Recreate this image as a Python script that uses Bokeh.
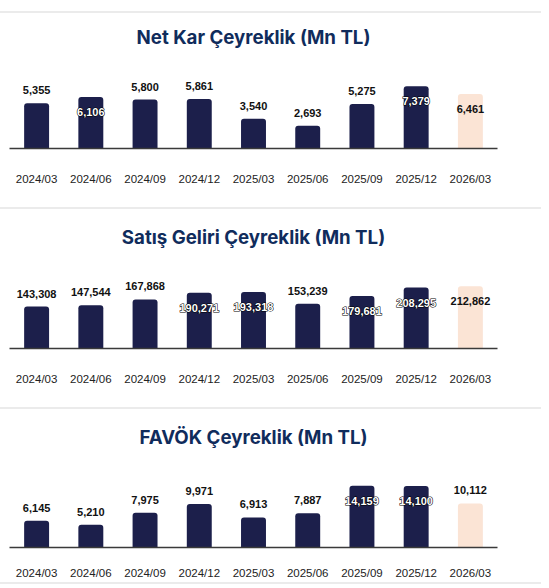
from bokeh.plotting import figure
from bokeh.models import ColumnDataSource, Range1d, Div
from bokeh.layouts import column
from bokeh.embed import file_html
from bokeh.resources import INLINE
from bokeh.core.properties import value

categories = ["2024/03", "2024/06", "2024/09", "2024/12", "2025/03",
              "2025/06", "2025/09", "2025/12", "2026/03"]
net_kar = [5355, 6106, 5800, 5861, 3540, 2693, 5275, 7379, 6461]
satis_geliri = [143308, 147544, 167868, 190271, 193318, 153239, 179681, 208295, 212862]
favok = [6145, 5210, 7975, 9971, 6913, 7887, 14159, 14100, 10112]
forecast = [False, False, False, False, False, False, False, False, True]

titles = ["Net Kar Çeyreklik (Mn TL)", "Satış Geliri Çeyreklik (Mn TL)", "FAVÖK Çeyreklik (Mn TL)"]
# label placement (inside the bar or above it)
inside_flags = [
    [0, 1, 0, 0, 0, 0, 0, 1, 1],
    [0, 0, 0, 1, 1, 0, 1, 1, 1],
    [0, 0, 0, 0, 0, 0, 1, 1, 0],
]

DARK = "#1c1f4b"
PEACH = "#fbe4d5"
TITLE_COLOR = "#102c5c"


def make_panel(title, vals, inside, height, bottom_border, standoff):
    colors = [PEACH if f else DARK for f in forecast]
    src = ColumnDataSource(dict(x=categories, top=vals, color=colors))
    p = figure(x_range=categories, y_range=Range1d(0, max(vals) * 1.59),
               width=533, height=height, output_backend="svg",
               toolbar_location=None, title=title,
               min_border_left=9, min_border_right=36,
               min_border_top=0, min_border_bottom=bottom_border)
    p.title.text_font = "Inter"
    p.title.text_font_size = "18.7px"
    p.title.text_font_style = "bold"
    p.title.text_color = TITLE_COLOR
    p.title.align = "center"
    p.title.standoff = 2
    p.vbar(x="x", top="top", width=0.46, source=src, fill_color="color",
           line_color=None, border_radius=(3, 3, 0, 0))

    out_x, out_y, out_t, out_off = [], [], [], []
    in_x, in_y, in_t = [], [], []
    for c, v, f, fc in zip(categories, vals, inside, forecast):
        lab = f"{v:,}"
        if f and not fc:
            in_x.append(c); in_y.append(v); in_t.append(lab)
        else:
            out_x.append(c); out_y.append(v); out_t.append(lab)
            out_off.append(15 if f else -13)
    common = dict(text_font=value("Liberation Sans"), text_font_size="11px",
                  text_font_style="bold", text_align="center",
                  text_baseline="middle")
    p.text(x=out_x, y=out_y, text=out_t, y_offset=out_off,
           text_color="#111111", **common)
    # halo-style labels inside the dark bars: black outline under white fill
    p.text(x=in_x, y=in_y, text=in_t, y_offset=15, text_color="black",
           text_outline_color="black", **common)
    p.text(x=in_x, y=in_y, text=in_t, y_offset=15, text_color="white", **common)

    p.yaxis.visible = False
    p.xgrid.grid_line_color = None
    p.ygrid.grid_line_color = None
    p.outline_line_color = None
    ax = p.xaxis[0]
    ax.axis_line_color = "#3a3a3a"
    ax.axis_line_width = 1.5
    ax.major_tick_line_color = None
    ax.minor_tick_line_color = None
    ax.major_label_standoff = standoff
    ax.major_label_text_font = "Liberation Sans"
    ax.major_label_text_font_size = "11.5px"
    ax.major_label_text_color = "#222222"
    return p


def sep(h=15):
    return Div(width=541, height=h, margin=(0, 0, 0, 0),
               styles={"border-top": "2px solid #ebebeb", "box-sizing": "border-box"})


series = [net_kar, satis_geliri, favok]
p1 = make_panel(titles[0], series[0], inside_flags[0], 185, 59, 18)
p2 = make_panel(titles[1], series[1], inside_flags[1], 185, 59, 18)
p3 = make_panel(titles[2], series[2], inside_flags[2], 160, 35, 13)

top_space = Div(width=541, height=11, margin=(0, 0, 0, 0))
layout = column(top_space, sep(11), p1, sep(), p2, sep(), p3, sep(3), spacing=0)
open("out.html", "w").write(file_html(layout, INLINE))
